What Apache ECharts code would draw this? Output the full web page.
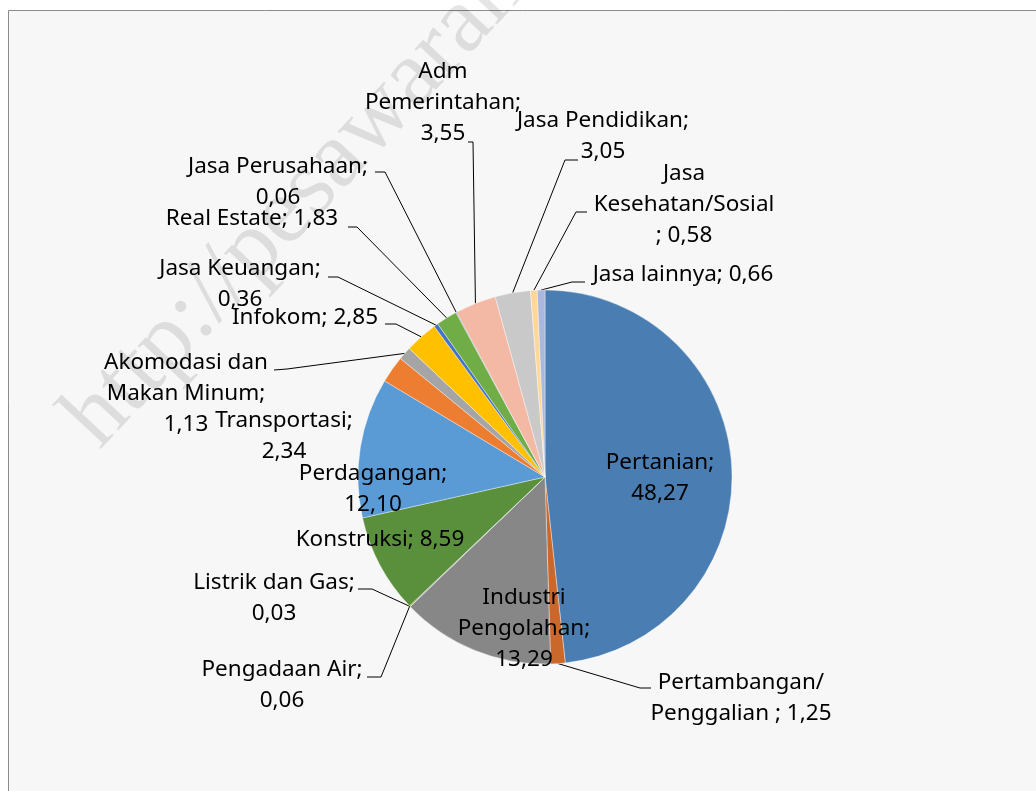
<!DOCTYPE html>
<html><head><meta charset="utf-8">
<script src="https://cdn.jsdelivr.net/npm/echarts@6/dist/echarts.min.js"></script>
<style>html,body{margin:0;padding:0;background:#fff}#c{width:1036px;height:791px}</style>
</head><body><div id="c"></div>
<script>
// ---- data ----
const categories = ['Pertanian','Pertambangan/Penggalian','Industri Pengolahan','Listrik dan Gas','Pengadaan Air','Konstruksi','Perdagangan','Transportasi','Akomodasi dan Makan Minum','Infokom','Jasa Keuangan','Real Estate','Jasa Perusahaan','Adm Pemerintahan','Jasa Pendidikan','Jasa Kesehatan/Sosial','Jasa lainnya'];
const values = [48.27,1.25,13.29,0.03,0.06,8.59,12.10,2.34,1.13,2.85,0.36,1.83,0.06,3.55,3.05,0.58,0.66];
const labelFormats = ['Pertanian;\n{v}','Pertambangan/\nPenggalian ; {v}','Industri\nPengolahan;\n{v}','Listrik dan Gas;\n{v}','Pengadaan Air;\n{v}','Konstruksi; {v}','Perdagangan;\n{v}','Transportasi;\n{v}','Akomodasi dan\nMakan Minum;\n{v}','Infokom; {v}','Jasa Keuangan;\n{v}','Real Estate; {v}','Jasa Perusahaan;\n{v}','Adm\nPemerintahan;\n{v}','Jasa Pendidikan;\n{v}','Jasa\nKesehatan/Sosial\n; {v}','Jasa lainnya; {v}'];

// ---- style / layout ----
const colors = ['#4A7EB3','#CA682B','#878787','#BF9000','#2F5597','#5A8F3B','#5B9BD5','#ED7D31','#A5A5A5','#FFC000','#4472C4','#70AD47','#255E91','#F4B9A4','#C9C9C9','#FFD899','#A9B8DC'];
const CX = 545, CY = 477, R = 187;
const labelPos = [[660,478],[741,698],[524,629],[274,598],[282,685],[380,540],[373,489],[284,436],[186,394],[305,318],[240,284],[252,219],[278,182],[443,103],[603,136],[684,205],[683,275]];
// [anchor at label, elbow]
const leaders = [null,[[651,688],[640,688]],null,[[358,589],[372,589]],[[367,677],[381,677]],null,null,null,[[274,370],[287,369]],[[385,324],[396,324]],[[328,277],[338,277]],[[348,227],[357,227]],[[375,172],[385,172]],[[468,142],[473,142]],[[578,160],[565,160]],[[587,212],[576,212]],[[585,282],[572,282]]];

const total = values.reduce((a,b)=>a+b,0);
let cum = 0;
const midAngles = values.map(v => { const m = (cum + v/2)/total; cum += v; return m*2*Math.PI; });
function arcPt(i){ const a = midAngles[i]; return [CX + R*Math.sin(a), CY - R*Math.cos(a)]; }
function fmt(v){ return v.toFixed(2).replace('.', ','); }

const data = categories.map((n,i)=>({
  name:n, value:values[i],
  itemStyle:{color:colors[i]},
  labelLine:{show: !!leaders[i]}
}));

const chart = echarts.init(document.getElementById('c'), null, {renderer:'canvas'});
chart.setOption({
  backgroundColor:'#ffffff',
  animation:false,
  graphic:[
    {type:'rect', z:-10, shape:{x:8.5,y:10.5,width:1200,height:900}, style:{fill:'#f7f7f7', stroke:'#8c8c8c', lineWidth:1}},
    {type:'text', z:-5, x:116, y:466, rotation:47*Math.PI/180,
     style:{text:'http://pesawarankab.bps.go.id', font:'95px "Liberation Serif"', fill:'rgba(0,0,0,0.1)', verticalAlign:'bottom'}}
  ],
  series:[{
    type:'pie',
    center:[CX,CY], radius:R,
    startAngle:90, clockwise:true,
    avoidLabelOverlap:false,
    itemStyle:{borderColor:'rgba(255,255,255,0.5)', borderWidth:0.75},
    label:{show:true, position:'outside', color:'#000', fontFamily:'Noto Sans', fontSize:22.5, lineHeight:31,
      formatter:p=>labelFormats[p.dataIndex].replace('{v}', fmt(p.value))},
    labelLine:{show:true, lineStyle:{color:'#000', width:1}, length:10, length2:10},
    labelLayout:function(params){
      const i = params.dataIndex;
      const p = labelPos[i];
      const res = {x:p[0], y:p[1], align:'center', verticalAlign:'middle'};
      if (leaders[i]) res.labelLinePoints = [arcPt(i), leaders[i][1], leaders[i][0]];
      return res;
    },
    emphasis:{disabled:true},
    data:data
  }]
});
</script></body></html>
